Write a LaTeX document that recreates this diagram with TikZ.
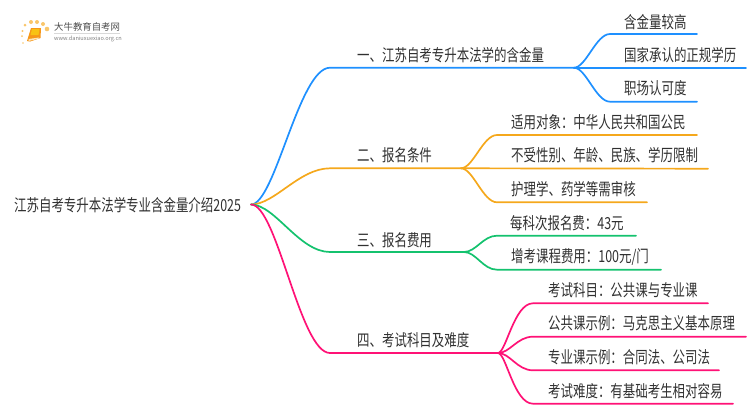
\documentclass[tikz,border=0pt]{standalone}
\usepackage{fontspec}
\setmainfont[FakeStretch=0.75]{Noto Sans CJK SC}
\newfontfamily\logofont{Noto Sans CJK SC}
\definecolor{cblue}{HTML}{1E90FF}
\definecolor{corange}{HTML}{F5A81C}
\definecolor{cgreen}{HTML}{14C26E}
\definecolor{cpink}{HTML}{FF1276}
\definecolor{ctext}{HTML}{303030}
\tikzset{
  label/.style={anchor=west,inner sep=0pt,text=ctext,font=\fontsize{16.6}{18}\selectfont},
  link/.style={line width=1.7pt,line cap=round}
}
\begin{document}
\begin{tikzpicture}[x=1pt,y=-1pt]
\useasboundingbox (0,0) rectangle (750,410);
% logo
\foreach \a/\b/\s in {23/43/1.6,22/36/2,22.5/31/2.4,25/25/3,31/22/4,37/22/4,43/24/4,47/29/4.6}
  \fill[corange!65] (\a,\b) circle (\s*0.5);
\fill[corange!90!red] (31,28) -- (41,28) -- (40.5,38) -- (30,41.5) -- (27,41) -- cycle;
\fill[corange!70!yellow] (32,29) -- (39.5,29) -- (38.5,35) -- (30.5,35) -- cycle;
\fill[white!70!corange] (28.5,39) -- (39,37.5) -- (39,38.5) -- (28.5,41) -- cycle;
\node[inner sep=0pt,anchor=west,text=black!70] (logotitle) at (54,27) {\logofont\fontsize{9.4}{10}\selectfont 大牛教育自考网};
\draw[black!15,line width=0.5pt] (54,33.2) -- (120,33.2);
\node[inner sep=0pt,anchor=west,text=black!50] (logourl) at (54,39) {\logofont\fontsize{5.6}{6}\selectfont www.daniuxuexiao.org.cn};
% texts
\node[label] (root) at (14,205) {江苏自考专升本法学专业含金量介绍2025};
\node[label] (b1) at (357,55) {一、江苏自考专升本法学的含金量};
\node[label] (b2) at (357,155.5) {二、报名条件};
\node[label] (b3) at (357,240) {三、报名费用};
\node[label] (b4) at (357,340) {四、考试科目及难度};
\node[label] (l11) at (624,22) {含金量较高};
\node[label] (l12) at (624,55) {国家承认的正规学历};
\node[label] (l13) at (624,88.5) {职场认可度};
\node[label] (l21) at (511,122) {适用对象：中华人民共和国公民};
\node[label] (l22) at (511,155.5) {不受性别、年龄、民族、学历限制};
\node[label] (l23) at (511,189.5) {护理学、药学等需审核};
\node[label] (l31) at (510,223) {每科次报名费：43元};
\node[label] (l32) at (511,257) {增考课程费用：100元/门};
\node[label] (l41) at (548,290) {考试科目：公共课与专业课};
\node[label] (l42) at (548,323.5) {公共课示例：马克思主义基本原理};
\node[label] (l43) at (548,357.5) {专业课示例：合同法、公司法};
\node[label] (l44) at (548,391) {考试难度：有基础考生相对容易};
% junctions
\coordinate (o) at (251,204.5);
\foreach \n/\x/\y in {s1/330/67.7,e1/574/67.7,s2/330/168.3,e2/461/168.3,s3/330/252,e3/464/252,s4/330/353,e4/498/353,
 a11/610/34,z11/697/34,a12/610/67.7,z12/746/67.7,a13/610/101.7,z13/697/101.7,
 a21/497/135,z21/697/135,a22/497/168.7,z22/708/168.7,a23/497/202.3,z23/647/202.3,
 a31/497/235.7,z31/636/235.7,a32/497/269.7,z32/661/269.7,
 a41/533/303.3,z41/708/303.3,a42/533/336.7,z42/746/336.7,a43/533/370.3,z43/719/370.3,a44/533/403.7,z44/733/403.7}
  \coordinate (\n) at (\x,\y);
% links
\draw[link,cblue] (o) .. controls +(24,0) and +(-31,0) .. (s1) -- (e1);
\draw[link,corange] (o) .. controls +(24,0) and +(-31,0) .. (s2) -- (e2);
\draw[link,cgreen] (o) .. controls +(24,0) and +(-31,0) .. (s3) -- (e3);
\draw[link,cpink] (o) .. controls +(26,0) and +(-30,0) .. (s4) -- (e4);
\draw[link,cblue] (e1) .. controls +(12,0) and +(-14,0) .. (a11) -- (z11);
\draw[link,cblue] (e1) -- (z12);
\draw[link,cblue] (e1) .. controls +(12,0) and +(-14,0) .. (a13) -- (z13);
\draw[link,corange] (e2) .. controls +(12,0) and +(-14,0) .. (a21) -- (z21);
\draw[link,corange] (e2) -- (z22);
\draw[link,corange] (e2) .. controls +(12,0) and +(-14,0) .. (a23) -- (z23);
\draw[link,cgreen] (e3) .. controls +(12,0) and +(-14,0) .. (a31) -- (z31);
\draw[link,cgreen] (e3) .. controls +(12,0) and +(-14,0) .. (a32) -- (z32);
\draw[link,cpink] (e4) .. controls +(8,0) and +(-19,0) .. (a41) -- (z41);
\draw[link,cpink] (e4) .. controls +(12,0) and +(-16,0) .. (a42) -- (z42);
\draw[link,cpink] (e4) .. controls +(12,0) and +(-16,0) .. (a43) -- (z43);
\draw[link,cpink] (e4) .. controls +(8,0) and +(-19,0) .. (a44) -- (z44);
\end{tikzpicture}
\end{document}
